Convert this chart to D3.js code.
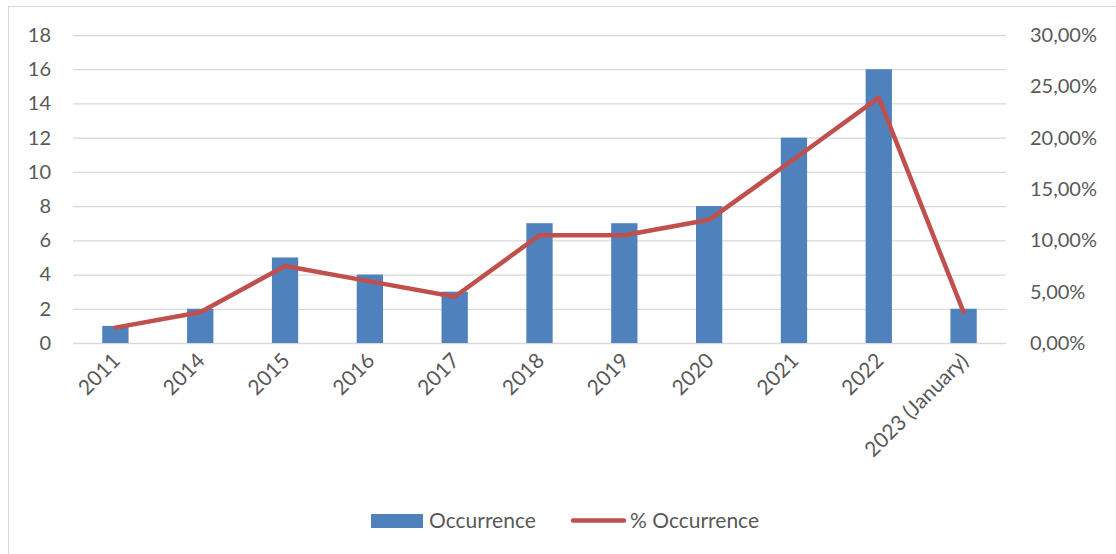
<!DOCTYPE html>
<html><head><meta charset="utf-8">
<script src="https://cdn.jsdelivr.net/npm/d3@7"></script>
<style>body{margin:0;background:#fff;} text{font-family:Lato, "Open Sans", sans-serif; fill:#595959;}</style>
</head><body>
<svg id="c" width="1116" height="554"></svg>
<script>
const categories = ["2011","2014","2015","2016","2017","2018","2019","2020","2021","2022","2023 (January)"];
const occurrence = [1,2,5,4,3,7,7,8,12,16,2];
const pctOccurrence = [1.5,3.0,7.5,6.0,4.5,10.5,10.5,12.0,17.9,23.9,3.0];
const leftTicks = [0,2,4,6,8,10,12,14,16,18];
const rightTicks = [0,5,10,15,20,25,30];

const FS = 20, FX = 21;
const svg = d3.select("#c");
svg.append("rect").attr("x",8.5).attr("y",6.5).attr("width",1120).attr("height",560)
  .attr("fill","#fff").attr("stroke","#d9d9d9");

const L=73, R=1006, T=35, B=343;
const x = d3.scaleBand().domain(categories).range([L,R]).paddingInner(0.69).paddingOuter(0.345);
const xc = d => x(d)+x.bandwidth()/2;
const y = d3.scaleLinear().domain([0,18]).range([B,T]);
const y2 = d3.scaleLinear().domain([0,30]).range([B,T]);

// gridlines
svg.append("g").selectAll("line").data(leftTicks).join("line")
  .attr("x1",L).attr("x2",R).attr("y1",d=>y(d)+0.5).attr("y2",d=>y(d)+0.5)
  .attr("stroke","#d9d9d9").attr("stroke-width",1.3);

// left axis
const ga = svg.append("g").attr("transform",`translate(${L},0)`)
  .call(d3.axisLeft(y).tickValues(leftTicks).tickSize(0).tickPadding(22));
ga.select(".domain").remove();
ga.selectAll("text").attr("font-size",FS).style("fill","#595959").style("font-family","Lato");

const gr = svg.append("g").attr("transform",`translate(${R},0)`)
  .call(d3.axisRight(y2).tickValues(rightTicks).tickSize(0).tickPadding(24)
    .tickFormat(d=>d.toFixed(2).replace(".",",")+"%"));
gr.select(".domain").remove();
gr.selectAll("text").attr("font-size",FS).style("fill","#595959").style("font-family","Lato");

// bars
svg.append("g").selectAll("rect").data(categories).join("rect")
  .attr("x",d=>x(d)).attr("width",x.bandwidth())
  .attr("y",(d,i)=>y(occurrence[i])).attr("height",(d,i)=>B-y(occurrence[i]))
  .attr("fill","#4f81bd");

// line
svg.append("path").datum(categories)
  .attr("d",d3.line().x(d=>xc(d)).y((d,i)=>y2(pctOccurrence[i])))
  .attr("fill","none").attr("stroke","#c0504d").attr("stroke-width",4.5)
  .attr("stroke-linecap","round").attr("stroke-linejoin","round");

// x axis labels
const gx = svg.append("g").attr("transform",`translate(0,${B})`)
  .call(d3.axisBottom(x).tickSize(0).tickPadding(0));
gx.select(".domain").remove();
gx.selectAll("text").attr("font-size",FX).style("fill","#595959").style("font-family","Lato")
  .attr("text-anchor","end").attr("dy",0).attr("y",0)
  .attr("transform","translate(6,19) rotate(-45)");

// legend
const lg = svg.append("g");
lg.append("rect").attr("x",371).attr("y",514).attr("width",52).attr("height",14).attr("fill","#4f81bd");
lg.append("text").attr("x",429).attr("y",528).attr("font-size",FX).text("Occurrence");
lg.append("line").attr("x1",573).attr("x2",624).attr("y1",520.5).attr("y2",520.5)
  .attr("stroke","#c0504d").attr("stroke-width",4.5).attr("stroke-linecap","round");
lg.append("text").attr("x",630).attr("y",528).attr("font-size",FX).text("% Occurrence");
</script>
</body></html>
